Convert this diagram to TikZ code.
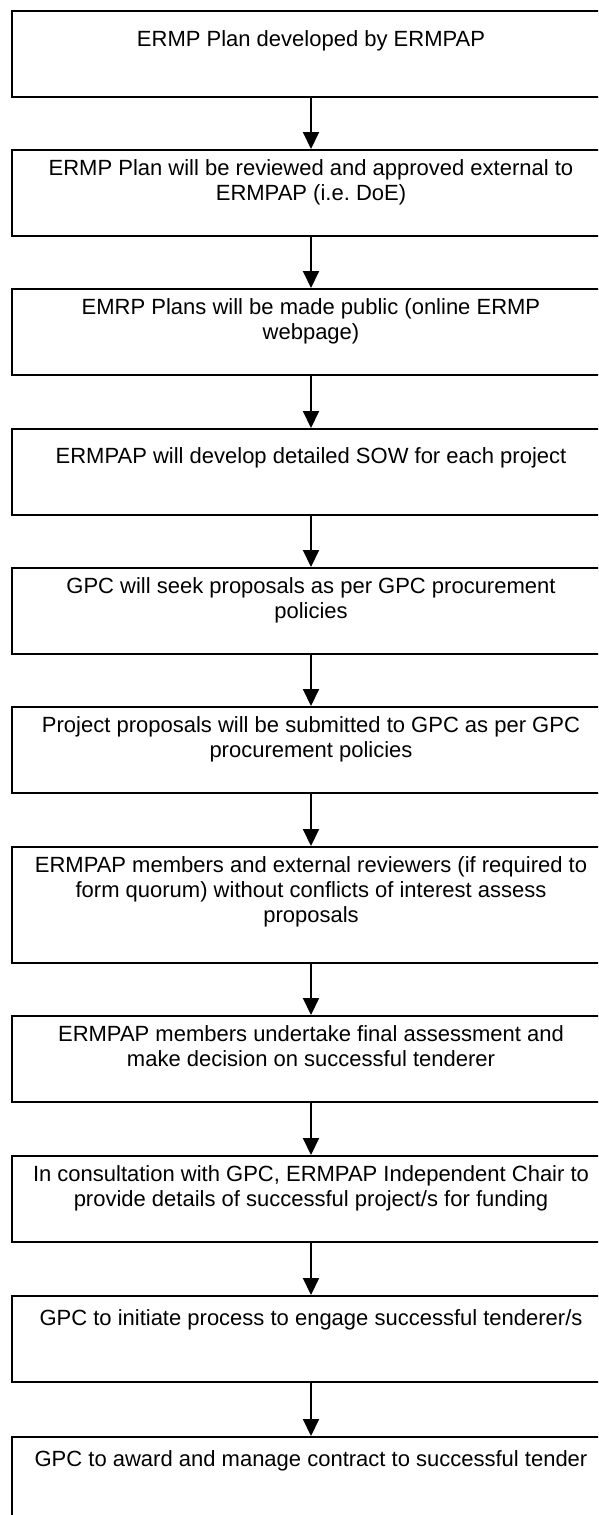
\documentclass[tikz,border=0pt]{standalone}
\usepackage{fontspec}
\setmainfont{Liberation Sans}
\usetikzlibrary{arrows.meta}

% box contents: fixed height, text set from the top
\newcommand{\steptext}[3][12.5pt]{\parbox[c][#2][t]{598pt}{\centering\frenchspacing
  \fontsize{22}{25}\selectfont\vspace*{#1}\strut #3}}

\tikzset{
  stepbox/.style={draw, line width=1.5pt, inner sep=0pt, anchor=north},
  flow/.style={-{Triangle[width=16pt,length=17pt]}, line width=2pt}
}

\begin{document}
\begin{tikzpicture}[x=1pt,y=-1pt]
  \useasboundingbox (0,0) rectangle (598,1515);
  \clip (0,0) rectangle (598,1515);
  \node[stepbox] (s1) at (311,10) {\steptext[18pt]{86pt}{ERMP Plan developed by ERMPAP}};
  \node[stepbox] (s2) at (311,149) {\steptext[8pt]{86pt}{ERMP Plan will be reviewed and approved external to\\ERMPAP (i.e. DoE)}};
  \node[stepbox] (s3) at (311,288) {\steptext[8pt]{86pt}{EMRP Plans will be made public (online ERMP\\webpage)}};
  \node[stepbox] (s4) at (311,428) {\steptext[17pt]{86pt}{ERMPAP will develop detailed SOW for each project}};
  \node[stepbox] (s5) at (311,567) {\steptext[8pt]{86pt}{GPC will seek proposals as per GPC procurement\\policies}};
  \node[stepbox] (s6) at (311,706) {\steptext[8pt]{86pt}{Project proposals will be submitted to GPC as per GPC\\procurement policies}};
  \node[stepbox] (s7) at (311,846) {\steptext[8pt]{116pt}{ERMPAP members and external reviewers (if required to\\form quorum) without conflicts of interest assess\\proposals}};
  \node[stepbox] (s8) at (311,1015) {\steptext[8pt]{86pt}{ERMPAP members undertake final assessment and\\make decision on successful tenderer}};
  \node[stepbox] (s9) at (311,1155) {\steptext[8pt]{86pt}{In consultation with GPC, ERMPAP Independent Chair to\\provide details of successful project/s for funding}};
  \node[stepbox] (s10) at (311,1295) {\steptext{86pt}{GPC to initiate process to engage successful tenderer/s}};
  \node[stepbox] (s11) at (311,1436) {\steptext{86pt}{GPC to award and manage contract to successful tender}};

  \draw[flow] (s1) -- (s2);
  \draw[flow] (s2) -- (s3);
  \draw[flow] (s3) -- (s4);
  \draw[flow] (s4) -- (s5);
  \draw[flow] (s5) -- (s6);
  \draw[flow] (s6) -- (s7);
  \draw[flow] (s7) -- (s8);
  \draw[flow] (s8) -- (s9);
  \draw[flow] (s9) -- (s10);
  \draw[flow] (s10) -- (s11);
\end{tikzpicture}
\end{document}
